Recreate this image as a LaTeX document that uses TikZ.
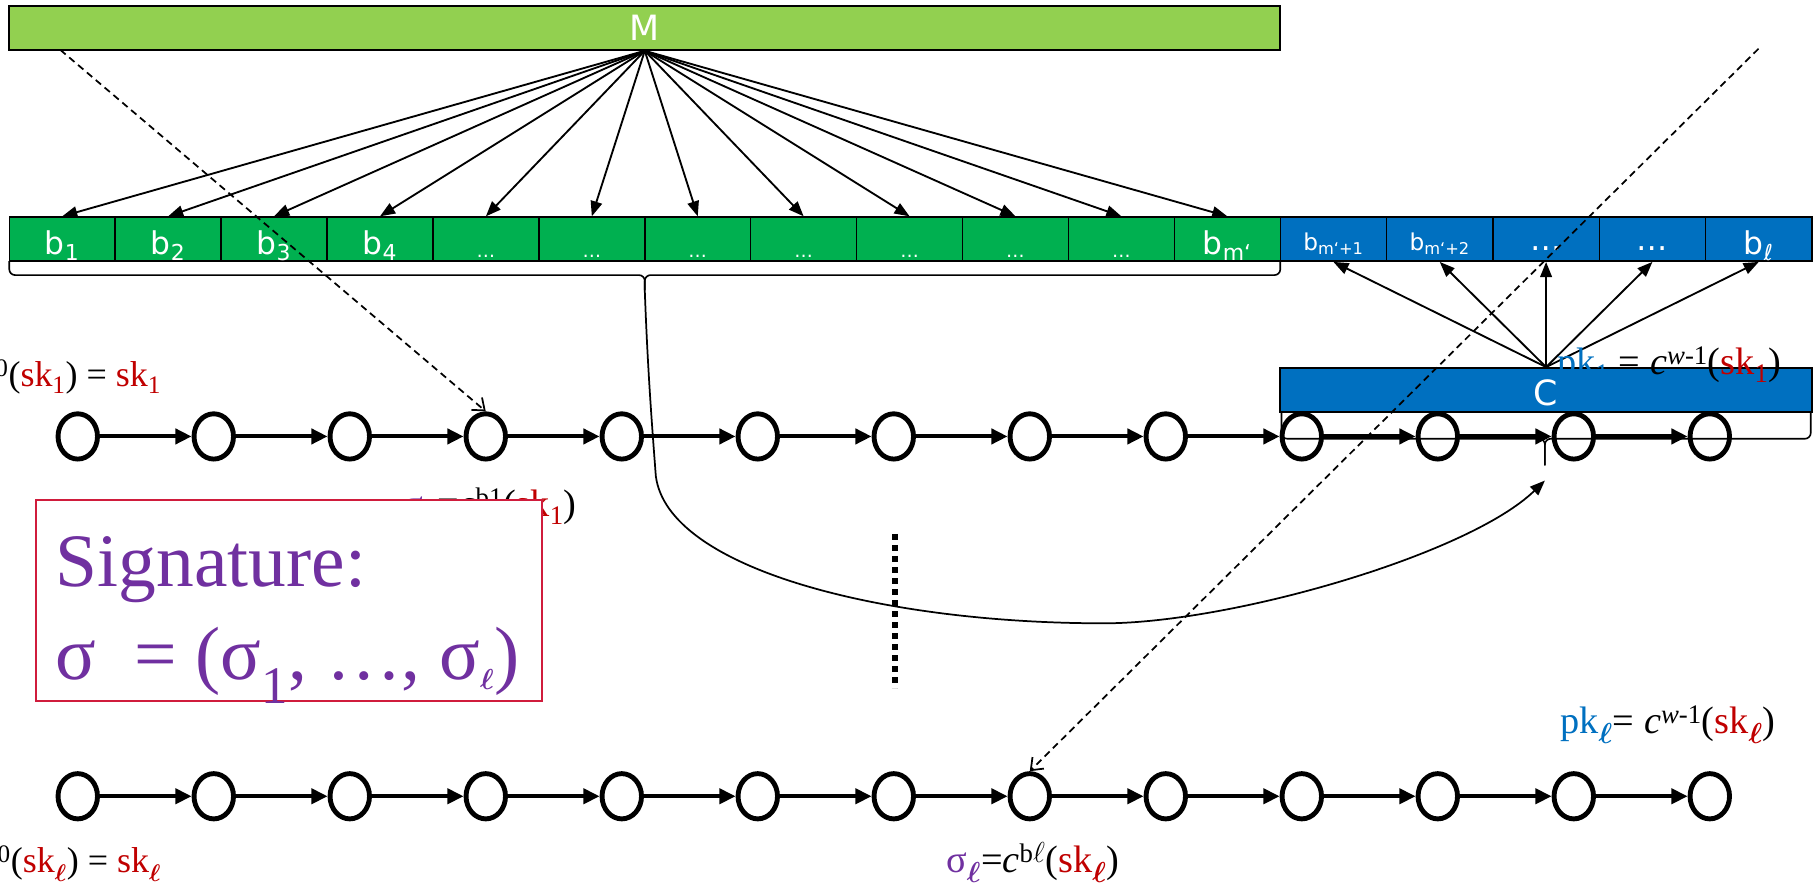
\documentclass[tikz,border=0pt]{standalone}
\usepackage{fontspec}
\setmainfont{Liberation Serif}
\newfontfamily\boxfont{DejaVu Sans}
\usetikzlibrary{arrows.meta,shapes.geometric}
\definecolor{lgreen}{HTML}{92D050}
\definecolor{dgreen}{HTML}{00B050}
\definecolor{mblue}{HTML}{0070C0}
\definecolor{mpurple}{HTML}{7030A0}
\definecolor{mred}{HTML}{C00000}
\definecolor{sigred}{HTML}{D01C3C}
\newcommand{\bell}{{\boldmath$\ell$}}
\newcommand{\skone}{\textcolor{mred}{sk\textsubscript{1}}}
\newcommand{\skell}{\textcolor{mred}{sk\textsubscript{\bell}}}
\begin{document}
\begin{tikzpicture}[x=1pt,y=-1pt,
  mbar/.style={draw=black,line width=1.5pt,fill=lgreen,minimum width=1095pt,minimum height=38pt,inner sep=0pt},
  gbox/.style={draw=black,line width=1.3pt,fill=dgreen,minimum width=91.25pt,minimum height=38pt,inner sep=0pt},
  bbox/.style={draw=black,line width=1.3pt,fill=mblue,minimum width=91.6pt,minimum height=38pt,inner sep=0pt},
  cbar/.style={draw=black,line width=1.5pt,fill=mblue,minimum width=458pt,minimum height=38pt,inner sep=0pt},
  lab/.style={text=white,font=\boxfont\fontsize{27}{30}\selectfont,anchor=base,inner sep=0pt},
  biglab/.style={text=white,font=\boxfont\fontsize{30}{34}\selectfont,anchor=base,inner sep=0pt},
  smalllab/.style={text=white,font=\boxfont\fontsize{20}{24}\selectfont,anchor=base,inner sep=0pt},
  dotlab/.style={text=white,font=\boxfont\fontsize{16}{20}\selectfont,anchor=base,inner sep=0pt},
  chainnode/.style={draw=black,ellipse,line width=4.2pt,minimum width=34pt,minimum height=39pt,inner sep=0pt},
  chainarrow/.style={line width=3.4pt,-{Triangle[length=14pt,width=13pt]}},
  marrow/.style={line width=1.6pt,-{Triangle[length=13pt,width=10pt]}},
  dasharrow/.style={line width=1.5pt,dash pattern=on 6pt off 4pt,-{Straight Barb[length=9pt,width=14pt]}},
  txt/.style={font=\fontsize{33}{37}\selectfont,inner sep=0pt},
  lefttxt/.style={font=\fontsize{31}{35}\selectfont,inner sep=0pt},
  bracestyle/.style={line width=1.4pt,rounded corners=5pt}
]
\useasboundingbox (0,0) rectangle (1568,769);

% chains
\foreach \i in {0,...,12} {
  \node[chainnode] (t\i) at ({67+117.17*\i},376) {};
  \node[chainnode] (u\i) at ({67+117.17*\i},686) {};
}
\foreach \i in {0,...,11} {
  \pgfmathtruncatemacro{\j}{\i+1}
  \draw[chainarrow] (t\i) -- (t\j);
  \draw[chainarrow] (u\i) -- (u\j);
}

% M bar and boxes
\node[mbar] (M) at (555.5,24) {};
\node[biglab] (Mlab) at (555.5,35) {M};
\foreach \i in {1,...,12} {
  \node[gbox] (g\i) at ({8+91.25*(\i-0.5)},206) {};
}
\foreach \i in {1,...,5} {
  \node[bbox] (h\i) at ({1103+91.6*(\i-0.5)},206) {};
}
\node[cbar] (C) at (1332,336) {};
\node[biglab] (Clab) at (1332,349) {C};

\foreach \i in {1,...,12} {
  \draw[marrow] (M.south) -- (g\i.north);
}
\foreach \i in {1,...,5} {
  \draw[marrow] (C.north) -- (h\i.south);
}

% box labels
\node[lab] (lg1) at (53.6,219) {b\textsubscript{1}};
\node[lab] (lg2) at (144.9,219) {b\textsubscript{2}};
\node[lab] (lg3) at (236.1,219) {b\textsubscript{3}};
\node[lab] (lg4) at (327.4,219) {b\textsubscript{4}};
\foreach \i in {5,...,11} {
  \node[dotlab] (lg\i) at ({8+91.25*(\i-0.5)},222) {…};
}
\node[lab] (lg12) at (1057.4,219) {b\textsubscript{m‘}};
\node[smalllab] (lh1) at (1148.8,216) {b\textsubscript{m‘+1}};
\node[smalllab] (lh2) at (1240.4,216) {b\textsubscript{m‘+2}};
\node[lab] (lh3) at (1332,216) {…};
\node[lab] (lh4) at (1423.6,216) {…};
\node[lab] (lh5) at (1515.2,219) {b\textsubscript{ℓ}};

% braces
\coordinate (bt1) at (555.5,250);
\draw[bracestyle] (8,225) |- (555.5,237) -- (bt1);
\draw[bracestyle] (1103,225) |- (555.5,237) -- (bt1);
\coordinate (bt2) at (1331,401);
\draw[bracestyle] (1104,356) |- (1331,378) -- (bt2);
\draw[bracestyle] (1560,356) |- (1331,378) -- (bt2);

% long curve
\coordinate (ct) at (1331,414);
\draw[line width=1.5pt,-{Triangle[length=13pt,width=10pt]}] (bt1) .. controls (558,320) and (562,370) .. (565,410)
  .. controls (575,490) and (760,537) .. (951,537)
  .. controls (1060,537) and (1265,478) .. (ct);

% labels
\node[lefttxt,anchor=base east] (l0top) at (139,333) {\textit{c}\textsuperscript{0}(\skone) = \skone};
\node[lefttxt,anchor=base east] (l0bot) at (139,752) {\textit{c}\textsuperscript{0}(\skell) = \skell};
\node[txt,anchor=base east] (s1lab) at (497,445) {\textcolor{mpurple}{σ\textsubscript{1}}=\textit{c}\textsuperscript{b1}(\skone)};
\node[txt,anchor=base west] (sllab) at (815,752) {\textcolor{mpurple}{σ\textsubscript{\bell}}=\textit{c}\textsuperscript{b$\ell$}(\skell)};
\node[txt,anchor=base east] (pk1) at (1535,323) {\textcolor{mblue}{pk\textsubscript{1}} = \textit{c}\textsuperscript{\textit{w}-1}(\skone)};
\node[txt,anchor=base east] (pkl) at (1530,632) {\textcolor{mblue}{pk\textsubscript{\bell}}= \textit{c}\textsuperscript{\textit{w}-1}(\skell)};

% signature box
\node[draw=sigred,line width=1.5pt,fill=white,minimum width=436pt,minimum height=173pt,anchor=north west,inner sep=0pt] (sig) at (30,430) {};
\node[anchor=base west,text=mpurple,font=\fontsize{65}{70}\selectfont,inner sep=0pt] (sigt1) at (48,505) {Signature:};
\node[anchor=base west,text=mpurple,font=\fontsize{65}{70}\selectfont,inner sep=0pt] (sigt2) at (48,585) {σ\ \ = (σ\textsubscript{1}, …, σ\textsubscript{\bell})};

% dotted vertical
\coordinate (dv1) at (771,460);
\coordinate (dv2) at (771,593);
\draw[line width=5pt,dash pattern=on 5pt off 4.5pt] (dv1) -- (dv2);

% dashed arrows
\coordinate (d1s) at (52,43);
\coordinate (d2s) at (1515,42);
\draw[dasharrow] (d1s) -- (t3.north);
\draw[dasharrow] (d2s) -- (u7.north);
\end{tikzpicture}
\end{document}
